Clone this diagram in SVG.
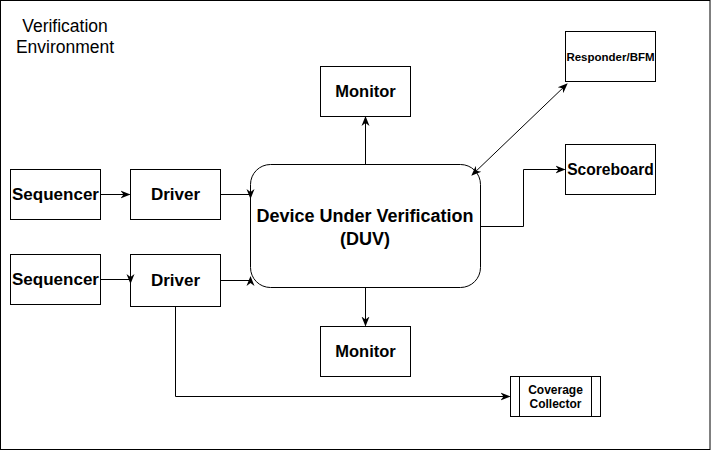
<svg xmlns="http://www.w3.org/2000/svg" width="711" height="451" viewBox="0 0 711 451">
<style>
.box{fill:#fff;stroke:#000;stroke-width:1}
.t{font-family:"Liberation Sans",Arial,sans-serif;font-weight:bold;fill:#000;text-anchor:middle}
.e{fill:none;stroke:#000;stroke-width:1}
</style>
<defs>
<marker id="ah" viewBox="0 0 10 10" refX="9" refY="5" markerWidth="10" markerHeight="10" markerUnits="userSpaceOnUse" orient="auto-start-reverse">
<path d="M0,1 L10,5 L0,9 L3,5 Z" fill="#000"/>
</marker>
</defs>
<rect x="0.5" y="0.5" width="709.5" height="449" fill="#fff" stroke="#000"/>
<text x="65" y="32" style="font-family:'Liberation Sans',Arial,sans-serif;font-size:17.5px;text-anchor:middle">Verification</text>
<text x="65" y="53" style="font-family:'Liberation Sans',Arial,sans-serif;font-size:17.5px;text-anchor:middle">Environment</text>
<g id="seq1"><rect class="box" x="10.5" y="169.5" width="90" height="50"/><text class="t" x="55.5" y="200" font-size="17">Sequencer</text></g>
<g id="drv1"><rect class="box" x="130.5" y="169.5" width="90" height="50"/><text class="t" x="175.5" y="200" font-size="17">Driver</text></g>
<g id="seq2"><rect class="box" x="10.5" y="254.5" width="90" height="50"/><text class="t" x="55.5" y="285" font-size="17">Sequencer</text></g>
<g id="drv2"><rect class="box" x="130.5" y="254.5" width="90" height="52"/><text class="t" x="175.5" y="286" font-size="17">Driver</text></g>
<g id="duv"><rect class="box" x="250.5" y="164.5" width="230" height="123" rx="20" ry="20"/><text class="t" x="365" y="222" font-size="18">Device Under Verification</text><text class="t" x="365" y="244.5" font-size="18">(DUV)</text></g>
<g id="mon1"><rect class="box" x="320.5" y="66.5" width="90" height="50"/><text class="t" x="365.5" y="97" font-size="16.5">Monitor</text></g>
<g id="mon2"><rect class="box" x="320.5" y="326.5" width="90" height="50"/><text class="t" x="365.5" y="357" font-size="16.5">Monitor</text></g>
<g id="resp"><rect class="box" x="565.5" y="31.5" width="90" height="50"/><text class="t" x="610.5" y="60.5" font-size="11.5">Responder/BFM</text></g>
<g id="score"><rect class="box" x="565.5" y="144.5" width="90" height="50"/><text class="t" x="610.5" y="175" font-size="15.6">Scoreboard</text></g>
<g id="cov"><rect class="box" x="510.5" y="376.5" width="90" height="40"/><line class="e" x1="519.5" y1="376.5" x2="519.5" y2="416.5"/><line class="e" x1="591.5" y1="376.5" x2="591.5" y2="416.5"/><text class="t" x="555.5" y="394" font-size="12">Coverage</text><text class="t" x="555.5" y="407.5" font-size="12">Collector</text></g>
<g id="connectors">
<path class="e" d="M100.5,194.5 H129.5" marker-end="url(#ah)"/>
<path class="e" d="M220.5,194.5 H250.5 V198" marker-end="url(#ah)"/>
<path class="e" d="M100.5,279.5 H130.5 V283" marker-end="url(#ah)"/>
<path class="e" d="M220.5,280.5 H250.5 V277" marker-end="url(#ah)"/>
<path class="e" d="M365.5,164 V117" marker-end="url(#ah)"/>
<path class="e" d="M365.5,287 V325.5" marker-end="url(#ah)"/>
<path class="e" d="M472,175 L567,84" marker-start="url(#ah)" marker-end="url(#ah)"/>
<path class="e" d="M480.5,226.5 H523.5 V169.5 H564.5" marker-end="url(#ah)"/>
<path class="e" d="M175.5,306 V396.5 H509.5" marker-end="url(#ah)"/>
</g>
</svg>
